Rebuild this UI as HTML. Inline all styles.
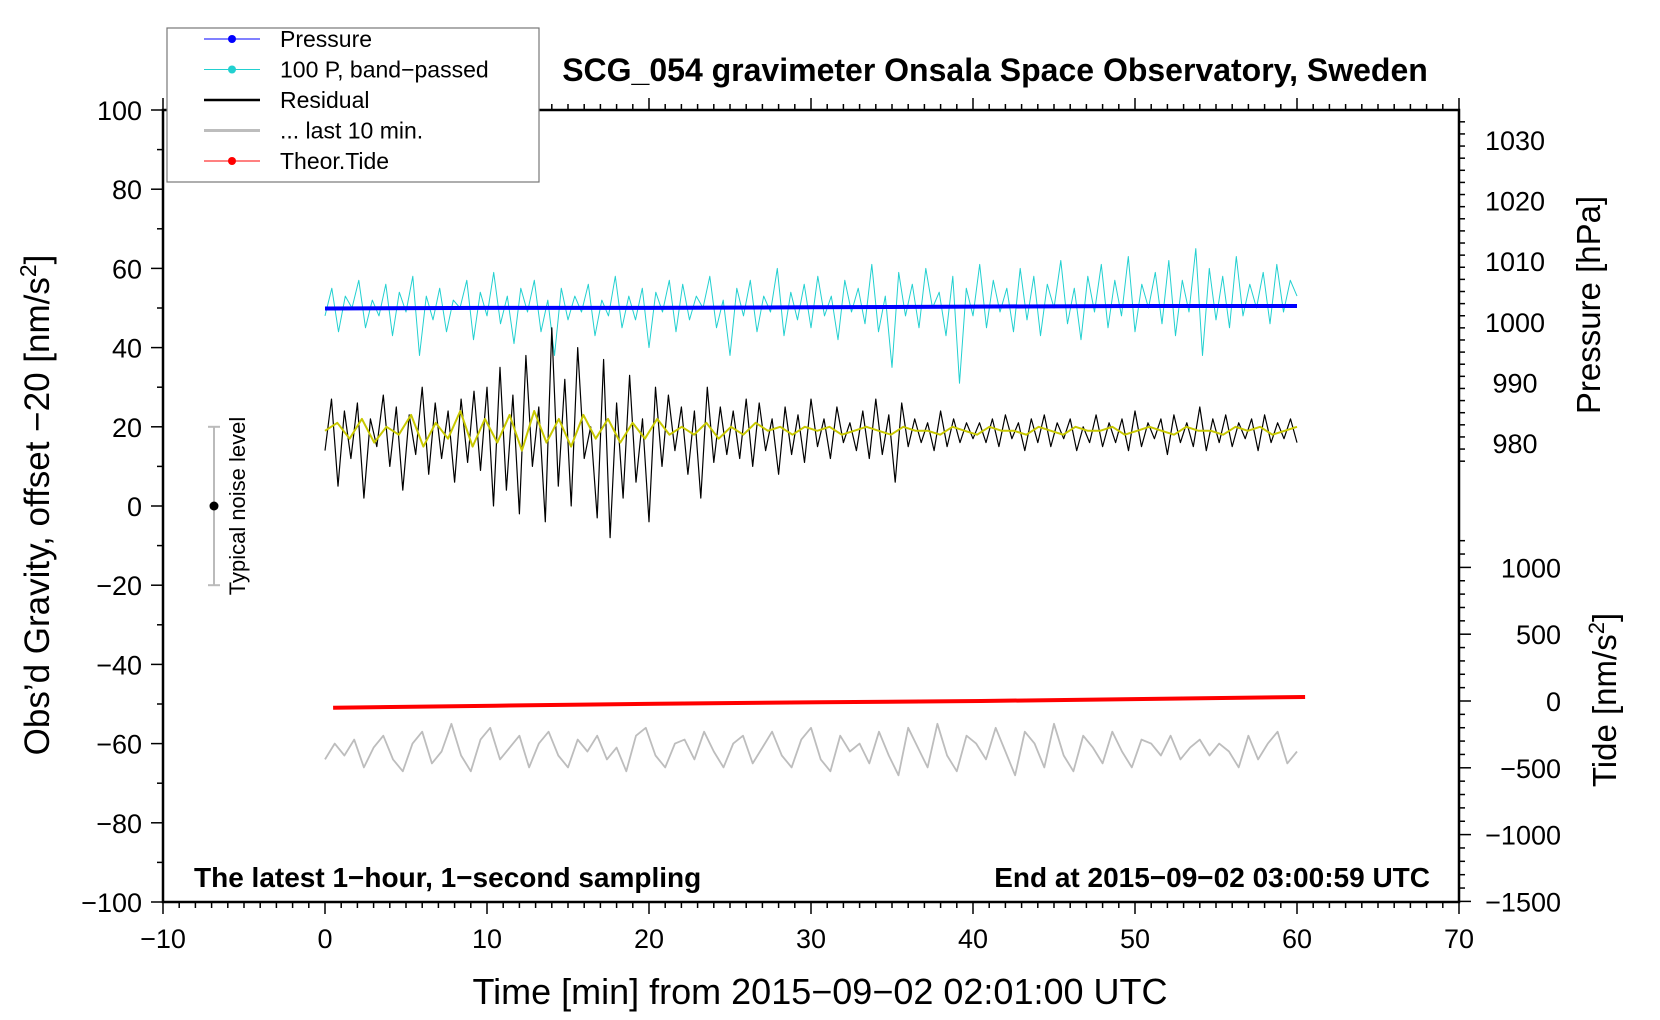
<!DOCTYPE html>
<html><head><meta charset="utf-8"><style>
html,body{margin:0;padding:0;background:#fff;}
svg{display:block;font-family:"Liberation Sans",Arial,sans-serif;}
</style></head><body>
<svg id="chart" width="1660" height="1020" viewBox="0 0 1660 1020" xmlns="http://www.w3.org/2000/svg">
<g id="plot"></g>
</svg>
<script>
const xTicks=[-10,0,10,20,30,40,50,60,70];
const yTicks=[100,80,60,40,20,0,-20,-40,-60,-80,-100];
const pTicks=[1030,1020,1010,1000,990,980];
const tTicks=[1000,500,0,-500,-1000,-1500];
const residual=[14,27,5,24,12,26,2,22,15,28,10,25,4,23,13,30,8,26,12,24,6,27,11,29,9,
30,0,35,4,28,-2,38,10,25,-4,45,5,32,0,40,12,20,-3,37,-8,26,2,33,6,22,-4,30,10,28,14,25,8,24,2,30,11,25,13,
24,12,27,10,26,14,22,8,25,13,23,11,27,15,22,12,25,16,21,14,24,12,27,13,23,6,26,15,22,16,21,14,24,15,22,16,21,17,
21,16,22,15,23,17,21,14,22,16,23,15,21,17,22,14,20,16,23,15,21,16,22,14,24,15,21,17,22,13,23,16,21,15,25,14,22,16,23,15,21,17,22,14,23,16,21,17,22,16];
const smooth=[19,21,17,22,16,20,18,23,15,21,17,24,15,22,16,23,14,24,16,22,15,23,17,22,16,21,17,22,18,20,18,21,17,20,18,21,19,20,18,20,19,20,18,19,20,19,18,20,19,19,18,20,19,18,20,19,19,18,20,19,18,20,19,19,20,18,19,20,19,18,20,19,19,18,20,19,20,18,19,20];
const bandP=[48,55,44,53,50,57,45,52,48,56,43,54,49,58,38,53,47,55,44,52,50,57,42,54,48,59,46,53,41,55,49,57,44,52,38,55,47,53,49,56,43,52,48,58,45,53,47,55,40,54,49,57,44,56,47,53,50,58,45,52,38,55,48,57,44,53,49,60,43,54,47,56,45,58,48,53,42,57,49,55,46,61,44,53,35,59,48,56,45,60,50,54,43,58,31,55,48,61,45,57,49,55,44,60,47,58,43,56,50,62,46,55,42,58,49,61,45,57,48,63,44,56,50,59,46,62,43,57,49,65,38,60,47,58,45,63,48,56,50,59,46,61,49,57,53];
const pressure=[1002.2,1002.3,1002.3,1002.4,1002.5,1002.6,1002.6];
const tide=[-50,-35,-20,-10,0,15,30];
const grayLast=[-64,-60,-63,-59,-66,-61,-58,-64,-67,-60,-57,-65,-62,-55,-63,-67,-59,-56,-64,-61,-58,-66,-60,-57,-63,-66,-59,-62,-58,-64,-61,-67,-58,-56,-63,-66,-60,-59,-64,-57,-62,-66,-60,-58,-65,-61,-57,-63,-66,-59,-56,-64,-67,-58,-62,-60,-65,-57,-63,-68,-56,-61,-66,-55,-63,-67,-58,-60,-64,-56,-62,-68,-57,-60,-66,-55,-63,-67,-58,-61,-65,-57,-62,-66,-59,-60,-63,-58,-64,-61,-59,-63,-60,-62,-66,-58,-64,-60,-57,-65,-62];

const NS='http://www.w3.org/2000/svg';
const g=document.getElementById('plot');
const X=t=>163+(t+10)*16.2;
const YL=v=>110+(100-v)*3.96;
const YP=p=>140+(1030-p)*6.06;
const YT=v=>701-v*0.1336;
function mk(tag,attrs,parent){const e=document.createElementNS(NS,tag);for(const k in attrs)e.setAttribute(k,attrs[k]);(parent||g).appendChild(e);return e;}
function series(vals,t0,t1,yf,color,w,name){
  const n=vals.length;let d='';
  vals.forEach((v,i)=>{const t=t0+(t1-t0)*i/(n-1);d+=(i?'L':'M')+X(t).toFixed(1)+','+yf(v).toFixed(1);});
  const p=mk('path',{d:d,fill:'none',stroke:color,'stroke-width':w,'stroke-linejoin':'round'});
  
  
}
function text(x,y,s,attrs,name){const e=mk('text',Object.assign({x:x,y:y},attrs));e.textContent=s;
  
  return e;}

const fr=mk('rect',{x:163,y:110,width:1296,height:792,fill:'none',stroke:'#000','stroke-width':2.5});


for(let t=-10;t<=70;t++){const maj=t%10===0;
  mk('line',{x1:X(t),x2:X(t),y1:902,y2:902+(maj?12:6),stroke:'#000','stroke-width':1.5});
  mk('line',{x1:X(t),x2:X(t),y1:110,y2:110-(maj?12:6),stroke:'#000','stroke-width':1.5});}
xTicks.forEach(t=>text(X(t),948,String(t).replace('-','\u2212'),{'font-size':27,'text-anchor':'middle'},'x-tick-label'));
for(let v=-100;v<=100;v+=10){const maj=v%20===0;mk('line',{x1:163,x2:163-(maj?12:6),y1:YL(v),y2:YL(v),stroke:'#000','stroke-width':1.5});}
yTicks.forEach(v=>text(142,YL(v)+10,String(v).replace('-','\u2212'),{'font-size':27,'text-anchor':'end'},'y-tick-label'));
for(let p=975;p<=1035;p+=2){const maj=p%10===0;const y=YP(p);if(y<110||y>470)continue;mk('line',{x1:1459,x2:1459+(maj?12:6),y1:y,y2:y,stroke:'#000','stroke-width':1.5});}
pTicks.forEach(p=>text(1515,YP(p)+10,String(p),{'font-size':27,'text-anchor':'middle'},'pressure-tick-label'));
for(let v=-1500;v<=1250;v+=100){const maj=v%500===0;mk('line',{x1:1459,x2:1459+(maj?12:6),y1:YT(v),y2:YT(v),stroke:'#000','stroke-width':1.5});}
tTicks.forEach(v=>text(1561,YT(v)+10,String(v).replace('-','\u2212'),{'font-size':27,'text-anchor':'end'},'tide-tick-label'));

series(grayLast,0,60,YL,'#bdbdbd',1.8,'last-10-min-line');
series(tide,0.5,60.5,YT,'#ff0000',4,'theor-tide-line');
series(bandP,0,60,YL,'#22d0d0',1,'band-passed-pressure-line');
series(pressure,0,60,YP,'#0000ff',4,'pressure-line');
series(residual,0,60,YL,'#000',1.2,'residual-line');
series(smooth,0,60,YL,'#c8c800',2,'residual-smoothed-line');

mk('line',{x1:214,x2:214,y1:YL(20),y2:YL(-20),stroke:'#bbb','stroke-width':2});
mk('line',{x1:208,x2:220,y1:YL(20),y2:YL(20),stroke:'#bbb','stroke-width':2});
mk('line',{x1:208,x2:220,y1:YL(-20),y2:YL(-20),stroke:'#bbb','stroke-width':2});
const nd=mk('circle',{cx:214,cy:YL(0),r:4.5,fill:'#000'});


text(0,0,'Typical noise level',{'font-size':22,'text-anchor':'middle',transform:'translate(245,'+YL(0)+') rotate(-90)'},'noise-level-label');

text(995,81,'SCG_054 gravimeter Onsala Space Observatory, Sweden',{'font-size':32,'font-weight':'bold','text-anchor':'middle'},'chart-title');
text(194,887,'The latest 1\u2212hour, 1\u2212second sampling',{'font-size':28,'font-weight':'bold'},'sampling-note');
text(1430,887,'End at 2015\u221209\u221202 03:00:59 UTC',{'font-size':28,'font-weight':'bold','text-anchor':'end'},'end-time-note');
text(820,1004,'Time [min] from 2015\u221209\u221202 02:01:00 UTC',{'font-size':36,'text-anchor':'middle'},'x-axis-title');
const yl=text(0,0,'',{'font-size':35,'text-anchor':'middle',transform:'translate(49,505) rotate(-90)'},'y-axis-title');
yl.innerHTML='Obs\u2019d Gravity, offset \u221220 [nm/s<tspan dy="-13" font-size="23">2</tspan><tspan dy="13">]</tspan>';
text(0,0,'Pressure [hPa]',{'font-size':33,'text-anchor':'middle',transform:'translate(1600,305) rotate(-90)'},'pressure-axis-title');
const tl=text(0,0,'',{'font-size':33,'text-anchor':'middle',transform:'translate(1616,700) rotate(-90)'},'tide-axis-title');
tl.innerHTML='Tide [nm/s<tspan dy="-12" font-size="22">2</tspan><tspan dy="12">]</tspan>';

const lg=mk('g',{});


mk('rect',{x:167,y:28,width:372,height:154,fill:'#fff',stroke:'#777','stroke-width':1.2},lg);
const items=[['Pressure','#0000ff',1,true],['100 P, band\u2212passed','#22d0d0',1,true],['Residual','#000',2.5,false],['... last 10 min.','#bdbdbd',3,false],['Theor.Tide','#ff0000',1,true]];
items.forEach((it,i)=>{const y=39+i*30.5;
  const e=mk('g',{},lg);
  
  
  mk('line',{x1:204,x2:260,y1:y,y2:y,stroke:it[1],'stroke-width':it[2]},e);
  if(it[3])mk('circle',{cx:232,cy:y,r:4,fill:it[1]},e);
  const t=mk('text',{x:280,y:y+8,'font-size':23},e);t.textContent=it[0];});
</script>
</body></html>
